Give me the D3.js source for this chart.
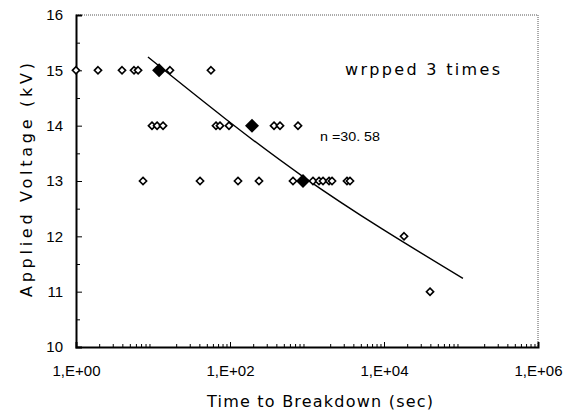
<!DOCTYPE html>
<html>
<head>
<meta charset="utf-8">
<script src="https://cdn.jsdelivr.net/npm/d3@7"></script>
<style>
  body { margin: 0; background: #fff; }
  text { font-family: "Liberation Sans", Arial, sans-serif; fill: #000; }
  .title { font-family: "DejaVu Sans", sans-serif; }
</style>
</head>
<body>
<div id="chart"></div>
<script>
// breakdown times (sec), one list per voltage level
var times15 = [1, 1.93, 3.96, 5.67, 6.4, 16.6, 56.6];
var times14 = [9.7, 11.3, 13.5, 65.8, 74.1, 97, 373, 446, 764];
var times13 = [7.42, 40.8, 127, 238, 658, 1196, 1432, 1614, 1932, 2113, 3306, 3616];
var times12 = [18200];
var times11 = [39600];

// level means (filled diamonds)
var meanTimes = [12.0, 193, 887];
var meanVolts = [15, 14, 13];

// fitted line, points
var fitTimes = [8.6, 887, 106000];
var fitVolts = [15.24, 13.08, 11.24];

var yTicks = [10, 11, 12, 13, 14, 15, 16];
var yMinor = [10.5, 11.5, 12.5, 13.5, 14.5, 15.5];
var xTicks = [1, 1e2, 1e4, 1e6];
var xTickLabels = ["1,E+00", "1,E+02", "1,E+04", "1,E+06"];

var margin = {top: 15, right: 36, bottom: 69, left: 76},
    width = 574 - margin.left - margin.right,
    height = 416 - margin.top - margin.bottom;

var x = d3.scaleLog().domain([1, 1e6]).range([0, width]);
var y = d3.scaleLinear().domain([10, 16]).range([height, 0]);

var svg = d3.select("#chart").append("svg")
    .attr("width", 574)
    .attr("height", 416)
  .append("g")
    .attr("transform", "translate(" + margin.left + "," + margin.top + ")");

// dotted top and right border
svg.append("path")
    .attr("d", "M0,0H" + width + "V" + height)
    .attr("fill", "none")
    .attr("stroke", "#555")
    .attr("stroke-width", 1)
    .attr("stroke-dasharray", "1,1");

// minor x ticks (2..9 in each decade)
var xMinor = [];
for (var k = 0; k < 6; k++) {
  for (var m = 2; m < 10; m++) xMinor.push(m * Math.pow(10, k));
}
svg.append("g")
    .attr("transform", "translate(0," + height + ")")
    .call(d3.axisBottom(x).tickValues(xMinor).tickSize(-3).tickFormat(""))
    .call(function(g) { g.select(".domain").remove(); });

// x axis
var xAxis = svg.append("g")
    .attr("transform", "translate(0," + height + ")")
    .call(d3.axisBottom(x).tickValues(xTicks).tickSize(-5).tickPadding(18)
      .tickFormat(function(d, i) { return xTickLabels[i]; }));
xAxis.select(".domain").attr("stroke-width", 2);
xAxis.selectAll("text").style("font-size", "15px")
    .attr("textLength", 48).attr("lengthAdjust", "spacingAndGlyphs");

// minor y ticks
svg.append("g")
    .call(d3.axisLeft(y).tickValues(yMinor).tickSize(-4).tickFormat(""))
    .call(function(g) { g.select(".domain").remove(); });

// y axis
var yAxis = svg.append("g")
    .call(d3.axisLeft(y).tickValues(yTicks).tickSize(-6).tickPadding(13)
      .tickFormat(d3.format("d")));
yAxis.select(".domain").attr("stroke-width", 2);
yAxis.selectAll("text").style("font-size", "15px");

// axis titles
svg.append("text")
    .attr("class", "title")
    .attr("x", width / 2 + 13)
    .attr("y", height + 60)
    .style("text-anchor", "middle")
    .style("font-size", "16px")
    .attr("textLength", 226)
    .text("Time to Breakdown (sec)");

svg.append("text")
    .attr("class", "title")
    .attr("transform", "rotate(-90)")
    .attr("x", -(height / 2) + 1)
    .attr("y", -44)
    .style("text-anchor", "middle")
    .style("font-size", "16px")
    .attr("textLength", 234)
    .text("Applied Voltage (kV)");

// fitted line
var fitData = fitTimes.map(function(t, i) { return {t: t, v: fitVolts[i]}; });
var fitLine = d3.line()
    .x(function(d) { return x(d.t); })
    .y(function(d) { return y(d.v); })
    .curve(d3.curveNatural);
svg.append("path")
    .datum(fitData)
    .attr("fill", "none")
    .attr("stroke", "#000")
    .attr("stroke-width", 1.4)
    .attr("d", fitLine);

// open diamonds
var points = [];
[[15, times15], [14, times14], [13, times13], [12, times12], [11, times11]].forEach(function(lv) {
  lv[1].forEach(function(t) { points.push({t: t, v: lv[0]}); });
});
function diamond(r) { return "M0," + (-r) + "L" + r + ",0L0," + r + "L" + (-r) + ",0Z"; }

svg.selectAll(".pt")
    .data(points)
  .enter().append("path")
    .attr("class", "pt")
    .attr("transform", function(d) { return "translate(" + x(d.t) + "," + y(d.v) + ")"; })
    .attr("d", diamond(3.6))
    .attr("fill", "#fff")
    .attr("stroke", "#000")
    .attr("stroke-width", 1.6);

// filled diamonds (means)
svg.selectAll(".mean")
    .data(meanTimes)
  .enter().append("path")
    .attr("class", "mean")
    .attr("transform", function(d, i) { return "translate(" + x(d) + "," + y(meanVolts[i]) + ")"; })
    .attr("d", diamond(7))
    .attr("fill", "#000");

// annotations
svg.append("text")
    .attr("class", "title")
    .attr("x", 269)
    .attr("y", 60)
    .style("font-size", "16px")
    .attr("textLength", 155)
    .text("wrpped 3 times");

svg.append("text")
    .attr("x", 244)
    .attr("y", 126)
    .style("font-size", "13px")
    .attr("textLength", 60)
    .attr("lengthAdjust", "spacingAndGlyphs")
    .text("n =30. 58");
</script>
</body>
</html>
